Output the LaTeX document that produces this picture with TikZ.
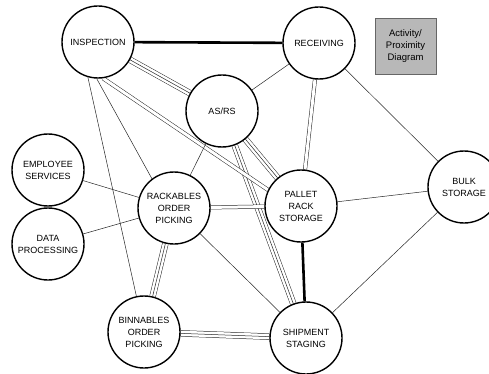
\documentclass[tikz,border=0pt]{standalone}
\usepackage{xcolor}
\usepackage{fontspec}
\setmainfont{Liberation Sans}
\usetikzlibrary{backgrounds}

\begin{document}
\begin{tikzpicture}[x=1pt,y=-1pt,
        area/.style={circle, draw, line width=1.4pt, fill=white, minimum size=72pt, inner sep=0pt,
            align=center, font=\fontsize{9}{12}\selectfont},
        single/.style={line width=0.5pt, draw=black!85},
        heavy/.style={line width=2.6pt},
        twin/.style={double, double distance=3pt, line width=0.5pt, draw=black!85},
        triple/.style={draw=white, line width=5.4pt, preaction={draw=black!85, line width=6.4pt},
            postaction={draw=black!85, line width=0.5pt}}]
        \useasboundingbox (0,0) rectangle (489,374);

        \node[area] (insp) at (98,42) {INSPECTION};
        \node[area] (recv) at (319,43) {RECEIVING};
        \node[area] (asrs) at (222,111) {AS/RS};
        \node[area] (emp) at (48,170) {EMPLOYEE\\SERVICES};
        \node[area] (data) at (48,244) {DATA\\PROCESSING};
        \node[area] (rack) at (174,208) {RACKABLES\\ORDER\\PICKING};
        \node[area] (pallet) at (301,206) {PALLET\\RACK\\STORAGE};
        \node[area] (bulk) at (464,187) {BULK\\STORAGE};
        \node[area] (bin) at (144,332) {BINNABLES\\ORDER\\PICKING};
        \node[area] (ship) at (306,338) {SHIPMENT\\STAGING};
        \node[draw=black!60, fill=black!28, line width=0.6pt, minimum width=61pt, minimum height=56pt,
            align=center, font=\fontsize{9.5}{12}\selectfont] (legend) at (405.5,46) {Activity/\\Proximity\\Diagram};

        \begin{scope}[on background layer]
            \draw[heavy] (insp) -- (recv);
            \draw[heavy] (pallet) -- (ship);
            \draw[triple] (insp) -- (asrs);
            \draw[triple] (asrs) -- (pallet);
            \draw[triple] (asrs) -- (ship);
            \draw[triple] (rack) -- (bin);
            \draw[triple] (bin) -- (ship);
            \draw[twin] (insp.-82) -- (pallet.154);
            \draw[twin] (recv) -- (pallet);
            \draw[twin] (rack) -- (pallet);
            \draw[single] (insp.-92) -- (rack.127);
            \draw[single] (insp.-106) -- (bin.102);
            \draw[single] (emp) -- (rack);
            \draw[single] (data) -- (rack);
            \draw[single] (asrs) -- (recv);
            \draw[single] (asrs) -- (rack);
            \draw[single] (recv) -- (bulk);
            \draw[single] (rack) -- (ship);
            \draw[single] (pallet) -- (bulk);
            \draw[single] (bulk) -- (ship);
        \end{scope}
    \end{tikzpicture}
\end{document}
